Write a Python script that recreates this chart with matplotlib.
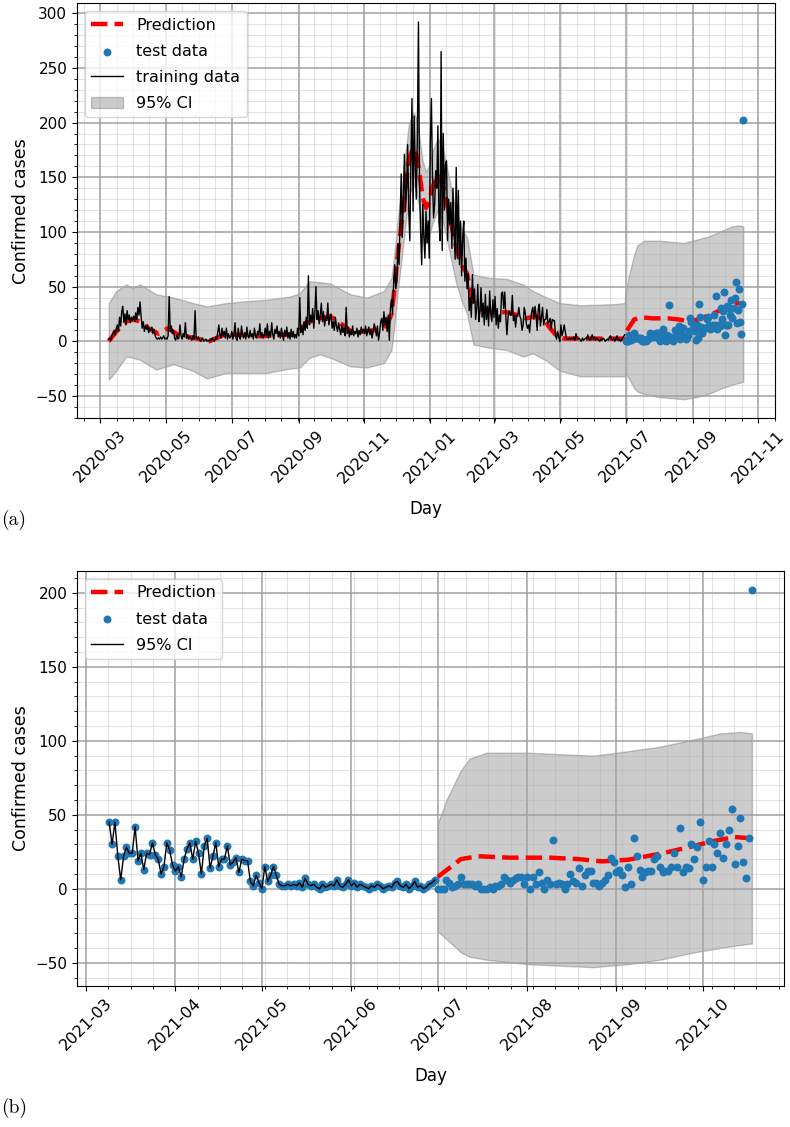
import matplotlib
matplotlib.use('Agg')
import matplotlib.pyplot as plt
import matplotlib.dates as mdates
from matplotlib.ticker import AutoMinorLocator
import pandas as pd

# daily confirmed cases, training part (2020-03-09 .. 2021-06-30)
train_start = '2020-03-09'
train_2020 = [
    2, 3, 1, 5, 8, 10, 6, 12, 15, 9, 22, 14, 27, 32, 18, 25, 15, 28, 20, 24, 17, 22, 19,
    23, 18, 26, 20, 31, 24, 36, 22, 12, 18, 9, 14, 11, 15, 8, 12, 10, 13, 7, 11, 5, 3, 2, 3, 2, 4, 2, 3, 5, 2,
    3, 2, 5, 41, 9, 14, 7, 10, 3, 1, 6, 2, 3, 15, 5, 2, 7, 4, 17, 3, 6, 2, 4, 3, 1, 5, 2, 28, 3, 2, 4,
    2, 0, 1, 3, 0, 1, 2, 0, 1, 0, 2, 1, 3, 1, 0, 4, 2, 8, 15, 6, 3, 12, 5, 9, 3, 12, 2, 7, 3, 4,
    9, 2, 6, 17, 3, 1, 12, 4, 2, 14, 6, 3, 8, 2, 13, 5, 3, 10, 4, 7, 2, 12, 5, 3, 9, 6, 16, 4, 8, 3, 5,
    12, 5, 16, 3, 9, 4, 17, 6, 2, 11, 7, 14, 4, 9, 3, 12, 6, 1, 10, 5, 13, 3, 8, 2, 11, 4, 9, 3, 6, 3, 12,
    5, 40, 8, 14, 6, 18, 10, 22, 12, 60, 15, 24, 18, 30, 12, 26, 50, 20, 28, 16, 24, 35, 18, 27, 14, 22, 19, 35, 15, 21,
    25, 12, 18, 10, 22, 14, 9, 17, 11, 6, 15, 8, 12, 5, 31, 7, 13, 4, 10, 6, 14, 5, 9, 7, 12, 4, 10, 6, 13, 8, 11,
    7, 14, 5, 10, 13, 6, 11, 3, 9, 16, 12, 5, 14, 1, 8, 18, 21, 10, 27, 15, 22, 9, 24, 1, 30, 38, 25, 52, 70, 48,
    55, 89, 70, 110, 153, 95, 130, 171, 119, 140, 180, 120, 92, 165, 222, 119, 206, 159, 130, 187, 292, 144, 100,
    70, 125, 95, 76, 119, 90, 110, 76,
]
train_2021 = [
    183, 222, 150, 113, 125, 156, 140, 197, 110, 92, 265, 83, 190, 120, 162, 165, 92, 130, 107, 127, 85, 140, 100,
    75, 159, 76, 138, 70, 110, 60, 95,
    110, 55, 76, 48, 62, 28, 40, 22, 61, 35, 48, 20, 30, 52, 18, 27, 49, 22, 35, 15, 43, 20, 32, 14, 46, 25, 18, 38,
    22, 41, 15, 30, 12, 24, 18, 44,
    45, 30, 45, 22, 6, 22, 28, 24, 24, 42, 19, 24, 13, 24, 23, 31, 23, 20, 10, 15, 31, 26, 16,
    12, 15, 8, 20, 27, 31, 20, 32, 24, 10, 29, 34, 14, 22, 31, 15, 20, 20, 29, 16, 18, 21, 11, 20, 19, 19, 5, 2, 9, 4,
    0, 15, 5, 9, 15, 9, 3, 2, 2, 3, 2, 3, 2, 4, 1, 7, 3, 2, 3, 1, 0, 3, 1, 2, 3, 2, 6, 2, 1, 3, 6,
    2, 4, 1, 3, 2, 1, 0, 2, 1, 3, 2, 0, 1, 2, 1, 4, 5, 2, 1, 3, 0, 2, 5, 1, 2, 0, 1, 3, 4, 6,
]

# daily confirmed cases, test part (2021-07-01 .. 2021-10-18)
test_start = '2021-07-01'
test_cases = [
    0, 0, 0, 6, 4, 1, 2, 3, 8, 3, 3, 3, 3, 2, 3, 0, 0, 0, 1, 0, 2, 2, 3, 8, 6, 4, 6, 7, 8, 8, 3,
    8, 0, 8, 3, 11, 4, 0, 6, 3, 33, 3, 4, 3, 0, 3, 10, 5, 4, 14, 2, 9, 12, 12, 4, 4, 2, 4, 6, 9, 21, 18,
    11, 13, 9, 1, 15, 3, 34, 22, 13, 8, 11, 12, 12, 20, 22, 15, 11, 12, 12, 15, 24, 15, 41, 11, 15, 14, 30, 20, 28, 45,
    6, 15, 32, 15, 30, 24, 38, 21, 30, 40, 54, 17, 29, 48, 18, 7, 34, 202,
]

pred_dates = [
    '2020-03-09', '2020-03-16', '2020-03-25', '2020-04-01', '2020-04-07', '2020-04-16', '2020-04-24', '2020-05-03',
    '2020-05-12', '2020-05-27', '2020-06-10', '2020-06-24', '2020-07-10', '2020-07-28', '2020-08-18', '2020-08-27',
    '2020-09-02', '2020-09-08', '2020-09-21', '2020-09-30', '2020-10-09', '2020-10-21', '2020-11-03', '2020-11-16',
    '2020-11-22', '2020-11-26', '2020-11-29', '2020-12-02', '2020-12-05', '2020-12-08', '2020-12-12', '2020-12-16',
    '2020-12-19', '2020-12-22', '2020-12-25', '2020-12-28', '2020-12-31', '2021-01-03', '2021-01-08', '2021-01-13',
    '2021-01-16', '2021-01-21', '2021-01-25', '2021-01-30', '2021-02-04', '2021-02-09', '2021-02-13', '2021-02-20',
    '2021-03-01', '2021-03-16', '2021-03-31', '2021-04-08', '2021-04-16', '2021-04-22', '2021-04-28', '2021-05-05',
    '2021-06-30', '2021-07-01', '2021-07-09', '2021-07-15', '2021-07-26', '2021-08-09', '2021-08-19', '2021-08-27',
    '2021-09-05', '2021-09-17', '2021-09-26', '2021-10-04', '2021-10-12', '2021-10-18',
]
pred_cases = [
    0, 9, 18, 20, 18, 11, 7, 12, 6, 3, 0, 6, 6, 4.6, 6, 6, 9, 17, 21, 23, 17, 8, 9, 11, 15, 25, 50, 80, 105, 131,
    165, 177, 171, 153, 131, 122, 128, 141, 153, 141, 128, 104, 86, 70, 62, 38, 31, 28, 27.5, 26, 21, 23, 20, 12,
    5, 2.5, 2.5, 8, 20, 22, 21, 21, 20, 18.5, 19.6, 24, 28, 32, 35, 34,
]

ci_dates = [
    '2020-03-09', '2020-03-16', '2020-03-25', '2020-03-31', '2020-04-07', '2020-04-22', '2020-05-08', '2020-05-26',
    '2020-06-08', '2020-06-26', '2020-07-18', '2020-08-02', '2020-08-24', '2020-09-02', '2020-09-11', '2020-09-21',
    '2020-09-30', '2020-10-19', '2020-11-03', '2020-11-19', '2020-11-26', '2020-11-29', '2020-12-02', '2020-12-05',
    '2020-12-08', '2020-12-12', '2020-12-16', '2020-12-19', '2020-12-22', '2020-12-25', '2020-12-28', '2020-12-31',
    '2021-01-03', '2021-01-08', '2021-01-13', '2021-01-16', '2021-01-21', '2021-01-25', '2021-01-30', '2021-02-04',
    '2021-02-10', '2021-02-25', '2021-03-13', '2021-03-28', '2021-04-06', '2021-04-19', '2021-05-01', '2021-05-20',
    '2021-06-20', '2021-06-30', '2021-07-01', '2021-07-04', '2021-07-09', '2021-07-12', '2021-07-18', '2021-08-01',
    '2021-08-12', '2021-08-24', '2021-09-05', '2021-09-16', '2021-09-28', '2021-10-07', '2021-10-14', '2021-10-18',
]
ci_lower = [
    -35, -27, -14, -15, -17, -26, -21, -27, -34, -29, -29, -29, -25, -24, -15, -12, -15, -23, -24, -20,
    -8, 17, 47, 72, 98, 132, 144, 138, 120, 98, 89, 95, 108, 120, 108, 95, 71, 53, 37, 25,
    -3, -6, -8, -14, -11, -18, -27, -32, -32, -32, -29, -34, -43, -46, -48, -51, -52, -53, -51, -48,
    -43, -40, -38, -37,
]
ci_upper = [
    35, 46, 52, 49, 52, 43, 40, 35, 32, 35, 37, 38, 41, 44, 55, 54, 53, 43, 40, 46,
    58, 83, 113, 138, 164, 198, 210, 204, 186, 164, 155, 161, 174, 186, 174, 161, 137, 119, 103, 95,
    61, 58, 57, 52, 46, 40, 35, 33, 34, 35, 44, 60, 80, 88, 92, 92, 91, 90, 93, 96,
    101, 105, 106, 105,
]

zoom_start = '2021-03-09'

train = pd.Series(train_2020 + train_2021,
                  index=pd.date_range(train_start, periods=len(train_2020) + len(train_2021)))
test = pd.Series(test_cases, index=pd.date_range(test_start, periods=len(test_cases)))
pred = pd.Series(pred_cases, index=pd.to_datetime(pred_dates))
ci = pd.DataFrame({'lower': ci_lower, 'upper': ci_upper}, index=pd.to_datetime(ci_dates))


def style_axes(ax, major_locator):
    ax.xaxis.set_major_locator(major_locator)
    ax.xaxis.set_major_formatter(mdates.DateFormatter('%Y-%m'))
    ax.xaxis.set_minor_locator(AutoMinorLocator(4))
    ax.yaxis.set_minor_locator(AutoMinorLocator(5))
    ax.grid(which='major', color='#a0a0a0', linewidth=1.1)
    ax.grid(which='minor', color='#b0b0b0', linewidth=0.8, alpha=0.35)
    ax.tick_params(axis='y', labelsize=11)
    ax.tick_params(axis='x', labelsize=11.5)
    for lab in ax.get_xticklabels():
        lab.set_rotation(45)
    ax.set_xlabel('Day', fontsize=12, labelpad=10)
    ax.set_ylabel('Confirmed cases', fontsize=12.5)
    return None


fig = plt.figure(figsize=(7.9, 11.27), dpi=100)

# (a) full series
ax1 = fig.add_axes([0.0975, 0.629, 0.8835, 0.3682])
h_pred, = ax1.plot(pred.index, pred.values, 'r--', linewidth=3.2)
h_test = ax1.scatter(test.index, test.values, s=22, color='C0', zorder=2.1)
h_train, = ax1.plot(train.index, train.values, 'k-', linewidth=1, zorder=2.2)
h_ci = ax1.fill_between(ci.index, ci['lower'], ci['upper'], color='k', alpha=0.2)
ax1.legend([h_pred, h_test, h_train, h_ci], ['Prediction', 'test data', 'training data', '95% CI'],
           loc='upper left', fontsize=11.5, labelspacing=0.7)
style_axes(ax1, mdates.MonthLocator(bymonth=[1, 3, 5, 7, 9, 11]))

# (b) zoom on the last months
p2 = pred[pred.index >= test_start]
c2 = ci[ci.index >= test_start]
t2 = train[train.index >= zoom_start]
obs2 = pd.concat([t2, test])
ax2 = fig.add_axes([0.0975, 0.1251, 0.895, 0.3682])
g_pred, = ax2.plot(p2.index, p2.values, 'r--', linewidth=3.2)
g_obs = ax2.scatter(obs2.index, obs2.values, s=22, color='C0', zorder=2.1)
g_train, = ax2.plot(t2.index, t2.values, 'k-', linewidth=1, zorder=2.2)
ax2.fill_between(c2.index, c2['lower'], c2['upper'], color='k', alpha=0.2)
ax2.legend([g_pred, g_obs, g_train], ['Prediction', 'test data', '95% CI'], loc='upper left',
           fontsize=11.5, labelspacing=0.7)
style_axes(ax2, mdates.MonthLocator())

fig.text(0.002, 0.539, '(a)', fontfamily='cmr10', fontsize=14, va='center')
fig.text(0.002, 0.017, '(b)', fontfamily='cmr10', fontsize=14, va='center')

fig.savefig('out.png', dpi=100)
